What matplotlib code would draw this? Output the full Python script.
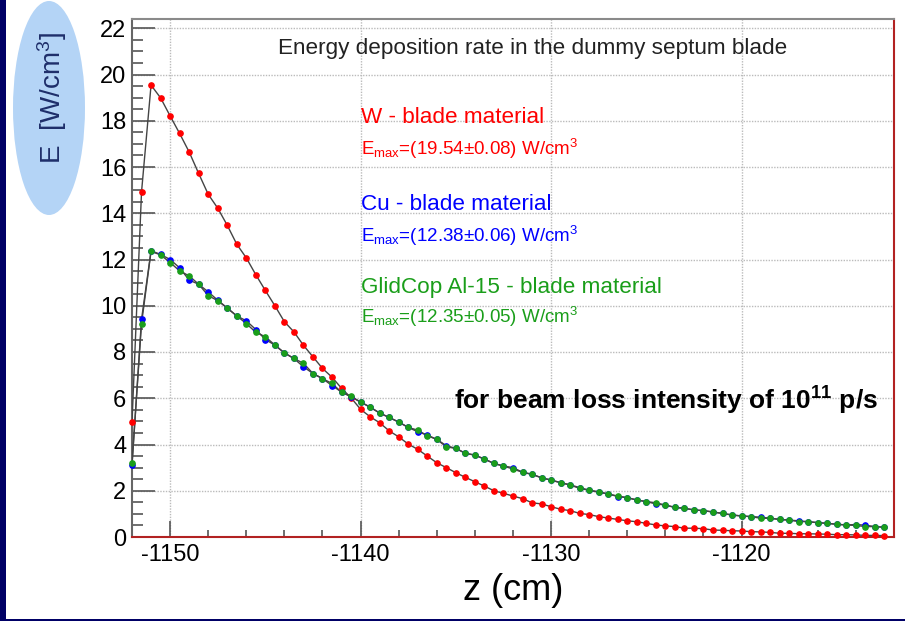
import numpy as np
import matplotlib
matplotlib.use("Agg")
import matplotlib.pyplot as plt
from matplotlib.patches import Ellipse, Rectangle
from matplotlib.ticker import MultipleLocator

plt.rcParams['font.family'] = ['Liberation Sans', 'DejaVu Sans']
plt.rcParams['mathtext.fontset'] = 'custom'
plt.rcParams['mathtext.rm'] = 'Liberation Sans'
plt.rcParams['mathtext.it'] = 'Liberation Sans:italic'
plt.rcParams['mathtext.bf'] = 'Liberation Sans:bold'

# ---- data ----
z = np.arange(-1152.0, -1112.4, 0.5)   # bin positions (cm)

e_W = [4.96, 14.92, 19.54, 18.99, 18.21, 17.45, 16.65, 15.72, 14.82, 14.22,
       13.48, 12.66, 12.07, 11.34, 10.66, 10.00, 9.31, 8.87, 8.29, 7.79,
       7.29, 6.91, 6.43, 6.02, 5.52, 5.20, 4.94, 4.59, 4.33, 4.02,
       3.79, 3.50, 3.21, 3.00, 2.78, 2.58, 2.39, 2.20, 2.00, 1.89,
       1.77, 1.66, 1.48, 1.43, 1.31, 1.20, 1.14, 1.02, 0.97, 0.88,
       0.82, 0.76, 0.70, 0.66, 0.59, 0.52, 0.48, 0.45, 0.38, 0.38,
       0.36, 0.30, 0.29, 0.27, 0.26, 0.23, 0.22, 0.20, 0.16, 0.16,
       0.14, 0.14, 0.13, 0.12, 0.10, 0.10, 0.09, 0.07, 0.07, 0.06]

e_Cu = [3.10, 9.41, 12.38, 12.22, 12.00, 11.64, 11.11, 10.93, 10.60, 10.24,
        9.90, 9.56, 9.35, 8.97, 8.54, 8.30, 7.96, 7.72, 7.36, 7.07,
        6.85, 6.55, 6.27, 6.06, 5.84, 5.62, 5.36, 5.17, 4.97, 4.74,
        4.55, 4.41, 4.22, 3.95, 3.83, 3.62, 3.54, 3.37, 3.18, 3.07,
        3.00, 2.80, 2.71, 2.56, 2.46, 2.35, 2.25, 2.10, 2.02, 1.96,
        1.86, 1.75, 1.70, 1.60, 1.53, 1.43, 1.38, 1.28, 1.24, 1.17,
        1.14, 1.08, 1.02, 0.95, 0.91, 0.88, 0.86, 0.81, 0.76, 0.73,
        0.70, 0.66, 0.62, 0.59, 0.55, 0.52, 0.54, 0.51, 0.45, 0.42]

e_GC = [3.18, 9.23, 12.35, 12.20, 11.87, 11.51, 11.29, 10.93, 10.44, 10.22,
        9.90, 9.56, 9.23, 8.85, 8.66, 8.30, 7.96, 7.72, 7.51, 7.07,
        6.85, 6.64, 6.26, 6.08, 5.83, 5.61, 5.36, 5.17, 4.97, 4.74,
        4.62, 4.38, 4.22, 3.90, 3.83, 3.62, 3.54, 3.37, 3.18, 3.07,
        2.94, 2.80, 2.71, 2.56, 2.46, 2.35, 2.25, 2.14, 2.02, 1.93,
        1.86, 1.77, 1.70, 1.60, 1.53, 1.48, 1.38, 1.28, 1.24, 1.17,
        1.14, 1.08, 1.02, 0.95, 0.91, 0.88, 0.81, 0.81, 0.76, 0.73,
        0.67, 0.66, 0.62, 0.59, 0.55, 0.52, 0.50, 0.45, 0.45, 0.42]

xticks = [-1150, -1140, -1130, -1120]
yticks = [0, 2, 4, 6, 8, 10, 12, 14, 16, 18, 20, 22]

RED = '#ff0000'
BLUE = '#0000ff'
GREEN = '#1a9e1a'

# ---- figure ----
W_PX, H_PX = 905, 621
fig = plt.figure(figsize=(W_PX / 100, H_PX / 100), dpi=100)
fig.patch.set_facecolor('white')

# navy border strips
fig.patches.append(Rectangle((0, 0), 6 / W_PX, 1, transform=fig.transFigure,
                             facecolor='#000066', edgecolor='none', zorder=0))
fig.patches.append(Rectangle((0, 0), 1, 2 / H_PX, transform=fig.transFigure,
                             facecolor='#000066', edgecolor='none', zorder=0))
# light blue ellipse behind y label
fig.patches.append(Ellipse((49 / W_PX, 1 - 108 / H_PX), 72 / W_PX, 214 / H_PX,
                           transform=fig.transFigure, facecolor='#b4d4f6',
                           edgecolor='none', zorder=0))
fig.text(52 / W_PX, 1 - 98 / H_PX, r'E  [W/cm$^{3}$]', rotation=90,
         ha='center', va='center', fontsize=20, color='#1e2e6a')

ax = fig.add_axes([132 / W_PX, 1 - 537 / H_PX, (894 - 132) / W_PX, (537 - 19) / H_PX])
ax.set_xlim(-1152, -1112)
ax.set_ylim(0, 22.4)

for vals, col in [(e_W, RED), (e_Cu, BLUE), (e_GC, GREEN)]:
    ax.plot(z, vals, color='#444444', lw=1.0, zorder=3)
    ax.plot(z, vals, linestyle='none', marker='o', ms=3.8, mfc=col, mec=col,
            zorder=4, clip_on=False)

ax.set_xticks(xticks)
ax.set_yticks(yticks)
ax.xaxis.set_minor_locator(MultipleLocator(2))
ax.yaxis.set_minor_locator(MultipleLocator(0.5))
ax.tick_params(axis='y', which='major', direction='in', length=16.5, width=1.2,
               color='#555555', labelsize=17, pad=4)
ax.tick_params(axis='y', which='minor', direction='in', length=8, width=1.2,
               color='#555555')
ax.tick_params(axis='x', which='major', direction='in', length=11.5, width=1.2,
               color='#555555', labelsize=17, pad=5)
ax.tick_params(axis='x', which='minor', direction='in', length=5, width=1.2,
               color='#555555')
ax.set_xticklabels([str(v) for v in xticks])

ax.grid(True, which='major', color='#bbbbbb', linestyle=(0, (1, 1)), lw=1.0, zorder=1)
ax.set_axisbelow(True)

ax.spines['top'].set_color('#8a8a8a')
ax.spines['left'].set_color('#666666')
ax.spines['bottom'].set_color('#b22222')
ax.spines['right'].set_color('#b22222')
for s in ax.spines.values():
    s.set_linewidth(1.5)

ax.set_xlabel('z (cm)', fontsize=26, labelpad=5)

# annotations
ax.text(0.526, 20.87, 'Energy deposition rate in the dummy septum blade',
        transform=ax.get_yaxis_transform(), ha='center', va='baseline',
        fontsize=16.2, color='#222222')
ax.text(-1140, 17.9, 'W - blade material', color=RED, fontsize=16.2, va='baseline')
ax.text(-1140, 16.5, r'E$_{\mathrm{max}}$=(19.54$\pm$0.08) W/cm$^{3}$', color=RED,
        fontsize=13.5, va='baseline')
ax.text(-1140, 14.13, 'Cu - blade material', color=BLUE, fontsize=16.2, va='baseline')
ax.text(-1140, 12.76, r'E$_{\mathrm{max}}$=(12.38$\pm$0.06) W/cm$^{3}$', color=BLUE,
        fontsize=13.5, va='baseline')
ax.text(-1140, 10.53, 'GlidCop Al-15 - blade material', color=GREEN, fontsize=16.2,
        va='baseline')
ax.text(-1140, 9.24, r'E$_{\mathrm{max}}$=(12.35$\pm$0.05) W/cm$^{3}$', color=GREEN,
        fontsize=13.5, va='baseline')
ax.text(-1135.1, 5.53, r'for beam loss intensity of 10$^{\mathbf{11}}$ p/s',
        fontsize=19, fontweight='bold', color='black', va='baseline')

fig.savefig('out.png', dpi=100)
